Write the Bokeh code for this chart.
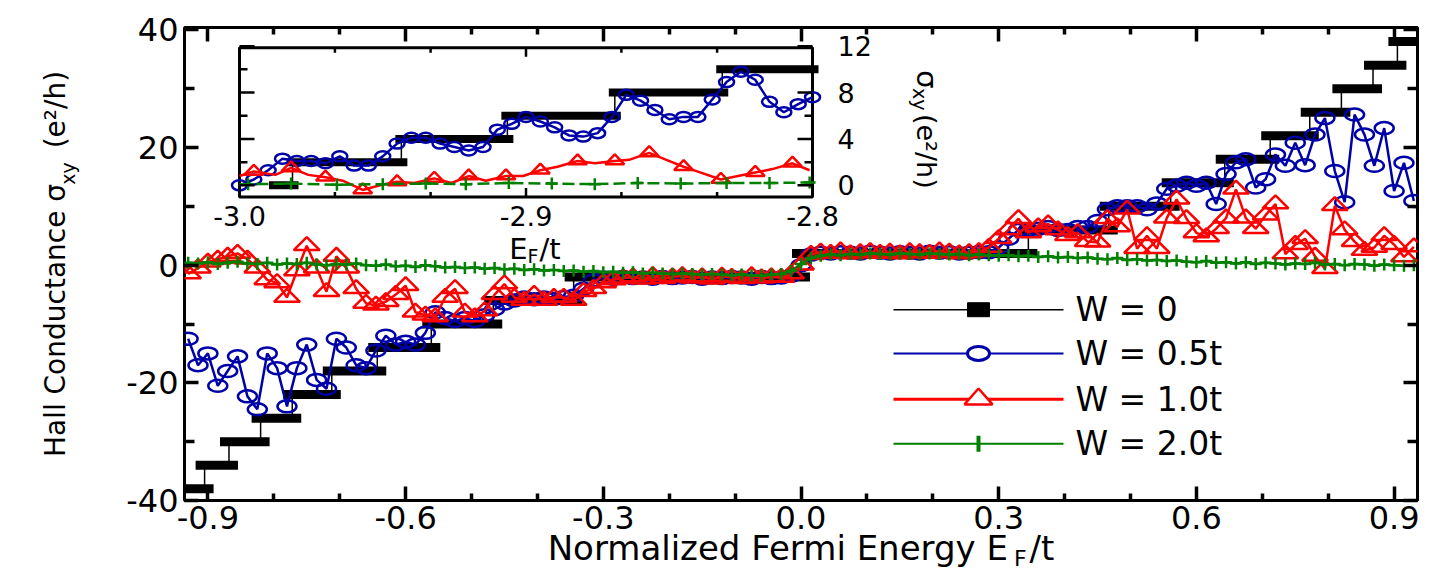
import numpy as np
from bokeh.plotting import figure
from bokeh.models import Range1d, LinearAxis, FixedTicker
from bokeh.core.properties import value
from bokeh.embed import file_html
from bokeh.resources import INLINE

FONT = "DejaVu Sans"
NAVY = "#0000a8"
RED = "#ff0000"
GREEN = "#008000"
NBSP = "\u00a0"

# ---------------- main panel: sigma_xy vs E_F/t ----------------
x_ticks = [-0.9, -0.6, -0.3, 0.0, 0.3, 0.6, 0.9]
x_tick_labels = ["-0.9", "-0.6", "-0.3", "0.0", "0.3", "0.6", "0.9"]
x_minor = [-0.8, -0.7, -0.5, -0.4, -0.2, -0.1, 0.1, 0.2, 0.4, 0.5, 0.7, 0.8]
y_ticks = [-40, -20, 0, 20, 40]
y_tick_labels = ["-40", "-20", "0", "20", "40"]
y_minor = [-30, -10, 10, 30]

# W = 0: quantized plateaus (plateau edges in E_F/t, plateau value in e^2/h)
clean_edges = [-0.9355, -0.905, -0.868, -0.820, -0.772, -0.712, -0.643, -0.561,
               -0.467, -0.345, 0.0, 0.345, 0.467, 0.561, 0.643, 0.712, 0.772,
               0.820, 0.868, 0.905, 0.9355]
clean_sigma = [-38, -34, -30, -26, -22, -18, -14, -10, -6, -2,
               2, 6, 10, 14, 18, 22, 26, 30, 34, 38]

# disordered samples on the Fermi-energy grid
energy = np.linspace(-0.93, 0.93, 125)

sigma_w05 = [
    -12.5, -17.0, -15.0, -20.5, -18.0, -15.5, -22.3, -24.5, -15.0, -17.5,
    -24.0, -17.5, -13.5, -19.5, -21.0, -12.5, -14.0, -17.0, -17.5, -14.5,
    -12.0, -13.5, -13.0, -13.5, -11.5, -8.0, -9.0, -9.5, -9.0, -9.5,
    -8.5, -7.5, -6.5, -6.0, -5.5, -5.8, -5.5, -5.7, -5.4, -5.2,
    -4.0, -2.6, -2.1, -2.3, -2.0, -2.2, -2.1, -2.3, -2.0, -2.2,
    -2.1, -2.0, -2.3, -2.1, -2.2, -2.0, -2.1, -2.3, -2.0, -2.2,
    -2.1, -1.8, 0.0, 1.8, 2.1, 2.0, 2.2, 2.1, 2.0, 2.3,
    2.1, 2.0, 2.2, 2.1, 2.0, 2.3, 2.1, 2.2, 2.0, 2.1,
    2.2, 2.2, 3.0, 4.5, 6.0, 6.0, 6.2, 6.5, 6.0, 6.0,
    6.5, 6.5, 7.5, 9.5, 10.0, 10.0, 10.0, 9.5, 10.5, 13.0,
    13.5, 14.0, 13.5, 14.0, 10.4, 15.5, 17.5, 18.0, 13.2, 14.6,
    18.8, 16.9, 20.8, 17.0, 22.2, 25.0, 16.0, 10.7, 25.6, 22.2,
    16.9, 23.3, 12.6, 17.4, 10.9,
]

sigma_w10 = [
    -1.5, -0.5, 0.5, 1.0, 1.5, 2.0, 1.0, -0.5, -2.5, -3.0,
    -5.5, -1.0, 3.3, -0.5, -4.5, 1.5, -0.5, -4.0, -6.5, -6.8,
    -6.2, -5.0, -3.5, -8.0, -8.5, -8.8, -5.5, -4.0, -8.0, -8.8,
    -7.8, -5.0, -3.2, -5.5, -6.0, -5.0, -6.0, -5.5, -5.5, -6.0,
    -4.5, -4.0, -3.0, -2.5, -2.2, -2.0, -2.4, -1.8, -2.3, -2.0,
    -1.8, -2.2, -2.0, -2.4, -1.9, -2.1, -2.3, -1.8, -2.2, -2.0,
    -2.1, -1.5, 0.0, 1.8, 2.2, 2.0, 2.4, 1.9, 2.1, 2.3,
    2.0, 2.2, 1.9, 2.3, 2.1, 2.0, 2.4, 2.2, 1.9, 2.1,
    2.3, 3.0, 4.5, 6.0, 7.9, 5.5, 6.5, 7.0, 6.0, 5.0,
    5.5, 4.0, 3.9, 7.9, 6.5, 9.5, 2.8, 5.0, 2.8, 8.0,
    11.2, 7.9, 5.5, 4.8, 6.2, 8.0, 12.9, 8.0, 6.2, 8.5,
    10.4, 1.9, 3.5, 4.5, 1.5, -0.6, 10.1, 6.0, 4.0, 2.5,
    3.0, 5.0, 3.5, 1.4, 3.1,
]

sigma_w20 = [
    0.4, 0.3, 0.5, 0.2, 0.4, 0.6, 0.3, 0.2, 0.4, 0.1,
    0.3, 0.2, 0.4, 0.1, 0.0, 0.2, 0.1, 0.3, 0.0, -0.1,
    0.1, -0.2, -0.1, -0.3, 0.0, -0.2, -0.4, -0.3, -0.5, -0.4,
    -0.6, -0.5, -0.7, -0.6, -0.8, -0.7, -0.9, -0.8, -1.0, -0.9,
    -1.1, -1.0, -1.2, -1.1, -1.3, -1.2, -1.4, -1.3, -1.4, -1.5,
    -1.4, -1.5, -1.6, -1.5, -1.6, -1.7, -1.6, -1.7, -1.8, -1.6,
    -1.5, -1.0, 0.2, 1.2, 1.6, 1.8, 1.7, 1.9, 1.8, 2.0,
    1.9, 1.8, 2.0, 1.9, 1.8, 2.0, 1.9, 1.8, 1.9, 1.7,
    1.8, 1.7, 1.6, 1.7, 1.5, 1.6, 1.4, 1.5, 1.3, 1.4,
    1.2, 1.3, 1.1, 1.0, 1.2, 0.9, 1.0, 0.8, 0.9, 0.7,
    0.8, 0.6, 0.5, 0.7, 0.4, 0.5, 0.3, 0.5, 0.2, 0.4,
    0.3, 0.1, 0.3, 0.2, 0.4, 0.1, 0.2, 0.0, 0.2, 0.1,
    -0.1, 0.1, 0.0, -0.1, 0.0,
]

# ---------------- inset: band edge E_F/t in [-3.0, -2.8] ----------------
inset_x_ticks = [-3.0, -2.9, -2.8]
inset_x_labels = ["-3.0", "-2.9", "-2.8"]
inset_x_minor = [-2.9667, -2.9333, -2.8667, -2.8333]
inset_y_ticks = [0, 4, 8, 12]
inset_y_labels = ["0", "4", "8", "12"]
inset_y_minor = [2, 6, 10]

inset_clean_edges = [-2.9876, -2.9815, -2.9435, -2.9065, -2.869, -2.8315, -2.8]
inset_clean_sigma = [0, 2, 4, 6, 8, 10]

inset_energy_w05 = np.linspace(-3.0, -2.8, 41)
inset_sigma_w05 = [0.0, 0.5, 1.3, 2.3, 2.1, 2.1, 1.9, 2.5, 1.7, 1.7,
                   2.5, 3.6, 4.1, 4.1, 3.6, 3.3, 3.0, 3.3, 4.8, 5.3,
                   5.9, 5.5, 5.0, 4.3, 4.2, 4.5, 5.9, 7.8, 7.3, 6.5,
                   5.7, 5.9, 5.9, 7.4, 8.9, 9.8, 9.1, 7.2, 6.3, 7.0, 7.6]

inset_energy_w10 = [-3.0, -2.995, -2.9875, -2.982, -2.976, -2.970, -2.964, -2.957,
                    -2.951, -2.945, -2.939, -2.932, -2.926, -2.920, -2.914, -2.907,
                    -2.901, -2.895, -2.889, -2.882, -2.876, -2.869, -2.864, -2.857,
                    -2.851, -2.845, -2.839, -2.832, -2.826, -2.820, -2.814, -2.807, -2.801]
inset_sigma_w10 = [0.8, 1.2, 0.9, 1.5, 0.9, 0.7, 0.4, -0.4, 0.0, 0.3, 0.2,
                   0.6, 0.2, 0.8, 0.4, 0.8, 0.8, 1.3, 1.6, 2.1, 1.9, 2.1,
                   2.2, 2.8, 2.2, 1.6, 1.1, 0.5, 0.8, 1.1, 1.4, 1.9, 1.3]

inset_energy_w20 = [-3.0, -2.997, -2.982, -2.966, -2.950, -2.935, -2.921, -2.906,
                    -2.891, -2.876, -2.861, -2.846, -2.830, -2.815, -2.801]
inset_sigma_w20 = [0.1, 0.1, 0.15, 0.05, 0.1, 0.15, 0.1, 0.2,
                   0.15, 0.1, 0.2, 0.15, 0.2, 0.2, 0.25]

legend_labels = ["W = 0", "W = 0.5t", "W = 1.0t", "W = 2.0t"]

# ---------------- geometry ----------------
W, H = 1433, 573
FL, FR, FT, FB = 184, 1417, 27, 503          # plot frame in canvas pixels
X0, X1 = -0.9355, 0.9355
Y0, Y1 = -40.0, 40.4
px_x = (FR - FL) / (X1 - X0)
px_y = (FB - FT) / (Y1 - Y0)

IL, IR, IT, IB = 239, 812, 47.5, 197.5       # inset box in canvas pixels
IX0, IX1 = -3.0, -2.8
IY0, IY1 = -1.0, 11.85
ipx_x = (IR - IL) / (IX1 - IX0)
ipx_y = (IB - IT) / (IY1 - IY0)

p = figure(width=W, height=H, x_range=Range1d(X0, X1), y_range=Range1d(Y0, Y1),
           output_backend="svg", toolbar_location=None,
           min_border_left=FL, min_border_right=W - FR,
           min_border_top=FT, min_border_bottom=H - FB)
p.extra_x_ranges = {
    "ix": Range1d(IX0 - (IL - FL) / ipx_x, IX1 + (FR - IR) / ipx_x),
    "px": Range1d(FL, FR),
}
p.extra_y_ranges = {
    "iy": Range1d(IY0 - (FB - IB) / ipx_y, IY1 + (IT - FT) / ipx_y),
    "py": Range1d(FB, FT),
}
p.xgrid.visible = False
p.ygrid.visible = False
p.background_fill_color = "white"
p.border_fill_color = "white"
p.outline_line_color = "black"
p.outline_line_width = 3

# axes: labelled bottom/left, mirrored ticks top/right, ticks pointing inward
xa, ya = p.xaxis[0], p.yaxis[0]
xa.ticker = FixedTicker(ticks=x_ticks, minor_ticks=x_minor)
xa.major_label_overrides = dict(zip(x_ticks, x_tick_labels))
ya.ticker = FixedTicker(ticks=y_ticks, minor_ticks=y_minor)
ya.major_label_overrides = dict(zip(y_ticks, y_tick_labels))
top = LinearAxis(ticker=FixedTicker(ticks=x_ticks, minor_ticks=x_minor),
                 major_label_text_color=None, major_label_text_font_size="1px")
right = LinearAxis(ticker=FixedTicker(ticks=y_ticks, minor_ticks=y_minor),
                   major_label_text_color=None, major_label_text_font_size="1px")
p.add_layout(top, "above")
p.add_layout(right, "right")
for ax, major_len, minor_len in ((xa, 14, 7), (top, 14, 7), (ya, 14, 10), (right, 14, 10)):
    ax.axis_line_color = None
    ax.major_tick_in = major_len
    ax.major_tick_out = 0
    ax.minor_tick_in = minor_len
    ax.minor_tick_out = 0
    ax.major_tick_line_width = 3.5
    ax.minor_tick_line_width = 3.5
    ax.major_tick_line_color = "black"
    ax.minor_tick_line_color = "black"
for ax, standoff in ((xa, 5), (ya, 6)):
    ax.major_label_text_font = FONT
    ax.major_label_text_font_size = "32px"
    ax.major_label_text_color = "black"
    ax.major_label_standoff = standoff


def label_axis(pos, text, size, standoff, orientation="horizontal", axis_label=None,
               label_size=28, label_standoff=0):
    """A tick-less axis used only to place (part of) an axis title."""
    ticks = [] if pos is None else [pos]
    ax = LinearAxis(ticker=FixedTicker(ticks=ticks, minor_ticks=[]),
                    major_label_overrides={} if pos is None else {pos: text},
                    major_label_text_font=FONT, major_label_text_font_size=f"{size}px",
                    major_label_text_color="black", major_label_standoff=standoff,
                    major_label_orientation=orientation,
                    axis_line_color=None, major_tick_line_color=None,
                    minor_tick_line_color=None, major_tick_in=0, major_tick_out=0,
                    minor_tick_in=0, minor_tick_out=0)
    if axis_label is not None:
        ax.axis_label = axis_label
        ax.axis_label_text_font = FONT
        ax.axis_label_text_font_size = f"{label_size}px"
        ax.axis_label_text_font_style = "normal"
        ax.axis_label_text_color = "black"
        ax.axis_label_standoff = label_standoff
    return ax


# x title: "Normalized Fermi Energy E_F/t"
xa.axis_label = "Normalized Fermi Energy E" + NBSP * 2 + "/t"
xa.axis_label_text_font = FONT
xa.axis_label_text_font_size = "34px"
xa.axis_label_text_font_style = "normal"
xa.axis_label_text_color = "black"
xa.axis_label_standoff = -4
sub_f = 0.333                                 # position of the subscript F (E_F/t)
p.add_layout(label_axis(sub_f, "F", 22, -25), "below")

# y title: "Hall Conductance sigma_xy (e^2/h)"
sub_xy = 15.6                                 # position of the subscript xy
p.add_layout(label_axis(sub_xy, "xy", 19, 44, orientation="vertical"), "left")
p.add_layout(label_axis(None, "", 19, 0,
                        axis_label="Hall Conductance \u03c3" + NBSP * 4 + "(e\u00b2/h)",
                        label_size=28, label_standoff=-17), "left")


def triangles(xs, ys, sx, sy, w, h):
    """Open triangle outlines (centroid on the data point), w x h pixels."""
    hw, hh = w / 2 / sx, h / sy
    return ([[x - hw, x + hw, x] for x in xs],
            [[y - hh / 3, y - hh / 3, y + 2 * hh / 3] for y in ys])


# ---- main panel series ----
pad = 9 / px_x
p.segment(x0=[e - pad for e in clean_edges[:-1]], x1=[e + pad for e in clean_edges[1:]],
          y0=clean_sigma, y1=clean_sigma, line_color="black", line_width=9, line_cap="butt")
p.step(x=clean_edges, y=clean_sigma + [clean_sigma[-1]], mode="after",
       line_color="black", line_width=1.5)

p.line(energy, sigma_w05, line_color=NAVY, line_width=2.5)
p.ellipse(x=energy, y=sigma_w05, width=19, height=12, width_units="screen",
          height_units="screen", fill_color=None, line_color=NAVY, line_width=2.5)

p.line(energy, sigma_w10, line_color=RED, line_width=2.5)
txs, tys = triangles(energy, sigma_w10, px_x, px_y, 26, 13)
p.patches(txs, tys, fill_color=None, line_color=RED, line_width=2.5)

p.line(energy, sigma_w20, line_color=GREEN, line_width=2.5)
p.scatter(energy, sigma_w20, marker="cross", size=12, line_color=GREEN, line_width=2.5)

# ---- inset ----
inset = dict(x_range_name="ix", y_range_name="iy")
p.quad(left=[IX0], right=[IX1], bottom=[IY0], top=[IY1], fill_color="white",
       line_color="black", line_width=3, **inset)

ipad = 6 / ipx_x
p.segment(x0=[e - ipad for e in inset_clean_edges[:-1]],
          x1=[e + ipad for e in inset_clean_edges[1:]],
          y0=inset_clean_sigma, y1=inset_clean_sigma, line_color="black",
          line_width=8, line_cap="butt", **inset)
p.step(x=inset_clean_edges, y=inset_clean_sigma + [inset_clean_sigma[-1]], mode="after",
       line_color="black", line_width=1.5, **inset)

p.line(inset_energy_w05, inset_sigma_w05, line_color=NAVY, line_width=2.5, **inset)
p.ellipse(x=inset_energy_w05, y=inset_sigma_w05, width=15, height=10, width_units="screen",
          height_units="screen", fill_color=None, line_color=NAVY, line_width=2.5, **inset)

p.line(inset_energy_w10, inset_sigma_w10, line_color=RED, line_width=2.5, **inset)
txs, tys = triangles(inset_energy_w10[1::2], inset_sigma_w10[1::2], ipx_x, ipx_y, 19, 10)
p.patches(txs, tys, fill_color=None, line_color=RED, line_width=2.5, **inset)

p.line(inset_energy_w20, inset_sigma_w20, line_color=GREEN, line_width=2.5,
       line_dash="12 5", **inset)
p.scatter(inset_energy_w20[1:], inset_sigma_w20[1:], marker="cross", size=12,
          line_color=GREEN, line_width=2.5, **inset)

# inset ticks (inward)
for ticks, ln in ((inset_x_ticks, 9), (inset_x_minor, 5)):
    p.ray(x=ticks, y=[IY0] * len(ticks), length=ln, length_units="screen",
          angle=np.pi / 2, line_color="black", line_width=2.5, **inset)
    p.ray(x=ticks, y=[IY1] * len(ticks), length=ln, length_units="screen",
          angle=-np.pi / 2, line_color="black", line_width=2.5, **inset)
for ticks, ln in ((inset_y_ticks, 15), (inset_y_minor, 8)):
    p.ray(x=[IX0] * len(ticks), y=ticks, length=ln, length_units="screen",
          angle=0, line_color="black", line_width=2.5, **inset)
    p.ray(x=[IX1] * len(ticks), y=ticks, length=ln, length_units="screen",
          angle=np.pi, line_color="black", line_width=2.5, **inset)

p.text(x=inset_x_ticks, y=[IY0] * 3, text=inset_x_labels, y_offset=19,
       text_font=value(FONT), text_font_size="27px", text_align="center",
       text_baseline="middle", text_color="black", **inset)
p.text(x=[IX1] * 4, y=inset_y_ticks, text=inset_y_labels, x_offset=25,
       text_font=value(FONT), text_font_size="27px", text_align="left",
       text_baseline="middle", text_color="black", **inset)

pxr = dict(x_range_name="px", y_range_name="py")


def px_text(text, x, y, size, angle=0.0, align="left"):
    p.text(x=[x], y=[y], text=[text], angle=angle, text_font=value(FONT),
           text_font_size=f"{size}px", text_align=align, text_baseline="alphabetic",
           text_color="black", **pxr)


# inset axis titles
px_text("E", 527, 250, 29, align="right")
px_text("F", 527, 257, 19)
px_text("/t", 539, 250, 29)
px_text("\u03c3", 926, 70, 29, angle=-np.pi / 2)
px_text("xy", 919, 88, 19, angle=-np.pi / 2)
px_text("(e\u00b2/h)", 926, 114, 27, angle=-np.pi / 2)

# ---- legend ----
rows = [311, 355, 401, 446]
line_x0, line_x1, mark_x, text_x = 893, 1063, 978, 1075
colors = ["black", NAVY, RED, GREEN]
widths = [1.5, 2, 3, 2]
p.segment(x0=[line_x0] * 4, x1=[line_x1] * 4, y0=rows, y1=rows,
          line_color=colors, line_width=widths, **pxr)
p.rect(x=[mark_x], y=[rows[0]], width=22, height=14, width_units="screen",
       height_units="screen", fill_color="black", line_color="black", **pxr)
p.ellipse(x=[mark_x], y=[rows[1]], width=22, height=14, width_units="screen",
          height_units="screen", fill_color="white", line_color=NAVY, line_width=3, **pxr)
lxs, lys = triangles([mark_x], [rows[2]], 1.0, -1.0, 28, 16)
p.patches(lxs, lys, fill_color="white", line_color=RED, line_width=2.5, **pxr)
p.scatter(x=[mark_x], y=[rows[3]], marker="dash", angle=np.pi / 2, size=16,
          line_color=GREEN, line_width=4, **pxr)
p.text(x=[text_x] * 4, y=rows, text=legend_labels, text_font=value(FONT),
       text_font_size="33px", text_align="left", text_baseline="middle",
       text_color="black", **pxr)

open("out.html", "w").write(file_html(p, INLINE))
